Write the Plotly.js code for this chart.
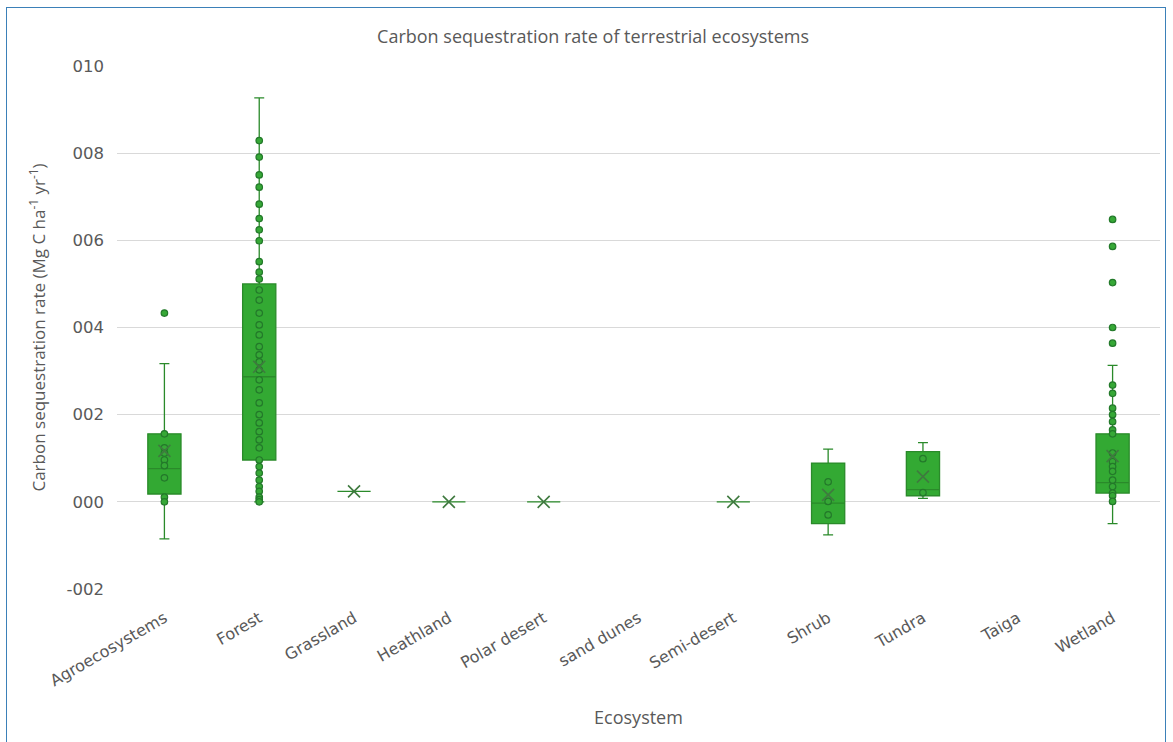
<!DOCTYPE html>
<html>
<head>
<meta charset="utf-8">
<script src="https://cdn.plot.ly/plotly-3.0.1.min.js"></script>
<style>
  html, body { margin: 0; padding: 0; background: #ffffff; }
  #wrap { position: relative; width: 1173px; height: 742px; overflow: hidden; }
  #plot { position: absolute; left: 0; top: 0; width: 1173px; height: 742px; }
  #frame { position: absolute; left: 6px; top: 7px; width: 1160px; height: 760px;
           border: 1px solid #3b80b8; pointer-events: none; box-sizing: border-box; }
</style>
</head>
<body>
<div id="wrap">
  <div id="plot"></div>
  <div id="frame"></div>
</div>
<script>
// ---- Data ----
const categories = ['Agroecosystems', 'Forest', 'Grassland', 'Heathland', 'Polar desert',
                    'sand dunes', 'Semi-desert', 'Shrub', 'Tundra', 'Taiga', 'Wetland'];

// Box statistics for ecosystems that have data
const boxCategories = ['Agroecosystems', 'Forest', 'Grassland', 'Heathland', 'Polar desert',
                       'Semi-desert', 'Shrub', 'Tundra', 'Wetland'];
const lowerWhisker = [-0.0085, 0.0000, 0.0024, 0.0000, 0.0000, 0.0000, -0.0076, 0.0008, -0.0050];
const q1Values     = [ 0.0018, 0.0096, 0.0024, 0.0000, 0.0000, 0.0000, -0.0050, 0.0014,  0.0020];
const medianValues = [ 0.0076, 0.0287, 0.0024, 0.0000, 0.0000, 0.0000, -0.0003, 0.0028,  0.0044];
const q3Values     = [ 0.0156, 0.0500, 0.0024, 0.0000, 0.0000, 0.0000,  0.0089, 0.0115,  0.0156];
const upperWhisker = [ 0.0317, 0.0927, 0.0024, 0.0000, 0.0000, 0.0000,  0.0121, 0.0136,  0.0313];
const meanValues   = [ 0.0117, 0.0310, 0.0024, 0.0000, 0.0000, 0.0000,  0.0016, 0.0058,  0.0105];

// Individual points (inner points and outliers)
const agroPoints = [0.0156, 0.0124, 0.0112, 0.0096, 0.0083, 0.0055, 0.0011, 0.0000];
const agroOutliers = [0.0433];
const forestPoints = [0.0829, 0.0791, 0.0750, 0.0722, 0.0683, 0.0650, 0.0624, 0.0599, 0.0551,
                      0.0527, 0.0511, 0.0486, 0.0463, 0.0433, 0.0406, 0.0383, 0.0356, 0.0337,
                      0.0321, 0.0303, 0.0280, 0.0257, 0.0227, 0.0200, 0.0181, 0.0161, 0.0142,
                      0.0124, 0.0096, 0.0081, 0.0066, 0.0050, 0.0035, 0.0024, 0.0011, 0.0005, 0.0000];
const shrubPoints = [0.0046, 0.0001, -0.0030];
const tundraPoints = [0.0099, 0.0021];
const wetlandPoints = [0.0268, 0.0249, 0.0215, 0.0200, 0.0184, 0.0165, 0.0156, 0.0112, 0.0092,
                       0.0081, 0.0070, 0.0050, 0.0035, 0.0020, 0.0014, 0.0001];
const wetlandOutliers = [0.0648, 0.0586, 0.0503, 0.0400, 0.0364];

const yTickValues = [-0.02, 0.00, 0.02, 0.04, 0.06, 0.08, 0.10];
const yTickLabels = ['-002', '000', '002', '004', '006', '008', '010'];

// ---- Styling ----
const boxFill = '#33a933';
const boxLine = '#2a8a2a';
const pointFill = '#36a836';
const pointLine = '#23792a';
const textGrey = '#595959';

const pointGroups = [
  ['Agroecosystems', agroPoints], ['Agroecosystems', agroOutliers],
  ['Forest', forestPoints], ['Shrub', shrubPoints], ['Tundra', tundraPoints],
  ['Wetland', wetlandPoints], ['Wetland', wetlandOutliers]
];
const px = [], py = [];
pointGroups.forEach(([cat, vals]) => vals.forEach(v => { px.push(cat); py.push(v); }));

const traces = [
  {
    type: 'box',
    x: boxCategories,
    q1: q1Values,
    median: medianValues,
    q3: q3Values,
    lowerfence: lowerWhisker,
    upperfence: upperWhisker,
    fillcolor: boxFill,
    line: { color: boxLine, width: 1.3 },
    whiskerwidth: 0.3,
    boxpoints: false,
    hoverinfo: 'skip',
    showlegend: false
  },
  {
    type: 'scatter',
    mode: 'markers',
    x: px,
    y: py,
    marker: { symbol: 'circle', size: 6.5, color: pointFill, line: { color: pointLine, width: 1.2 } },
    hoverinfo: 'skip',
    showlegend: false
  },
  {
    type: 'scatter',
    mode: 'markers',
    x: boxCategories,
    y: meanValues,
    marker: { symbol: 'x-thin', size: 12, line: { color: '#3f7a3f', width: 1.6 } },
    hoverinfo: 'skip',
    showlegend: false
  }
];

const layout = {
  width: 1173,
  height: 742,
  margin: { l: 117, r: 13, t: 66, b: 153 },
  paper_bgcolor: '#ffffff',
  plot_bgcolor: '#ffffff',
  showlegend: false,
  boxgap: 0.5,
  title: {
    text: 'Carbon sequestration rate of terrestrial ecosystems',
    font: { family: 'Open Sans, sans-serif', size: 18, color: textGrey },
    x: 0.5056, xref: 'container', xanchor: 'center',
    y: 0.950, yref: 'container', yanchor: 'middle'
  },
  xaxis: {
    type: 'category',
    categoryorder: 'array',
    categoryarray: categories,
    range: [-0.5, 10.5],
    tickangle: -30,
    tickfont: { family: 'DejaVu Sans, Verdana, sans-serif', size: 16, color: textGrey },
    ticklabelstandoff: 16,
    showgrid: false,
    showline: false,
    ticks: '',
    title: {
      text: 'Ecosystem',
      font: { family: 'Open Sans, sans-serif', size: 18, color: textGrey },
      standoff: 22
    },
    automargin: false
  },
  yaxis: {
    range: [-0.02, 0.10],
    tickvals: yTickValues,
    ticktext: yTickLabels,
    tickfont: { family: 'DejaVu Sans, Verdana, sans-serif', size: 16.5, color: textGrey },
    showgrid: true,
    gridcolor: '#d9d9d9',
    gridwidth: 1,
    zeroline: false,
    showline: false,
    ticks: '',
    ticklabelstandoff: 12,
    title: {
      text: 'Carbon sequestration rate (Mg C ha<sup>-1</sup> yr<sup>-1</sup>)',
      font: { family: 'Open Sans, sans-serif', size: 17, color: textGrey },
      standoff: 16
    },
    automargin: false
  }
};

Plotly.newPlot('plot', traces, layout, { displayModeBar: false, staticPlot: true });
</script>
</body>
</html>
